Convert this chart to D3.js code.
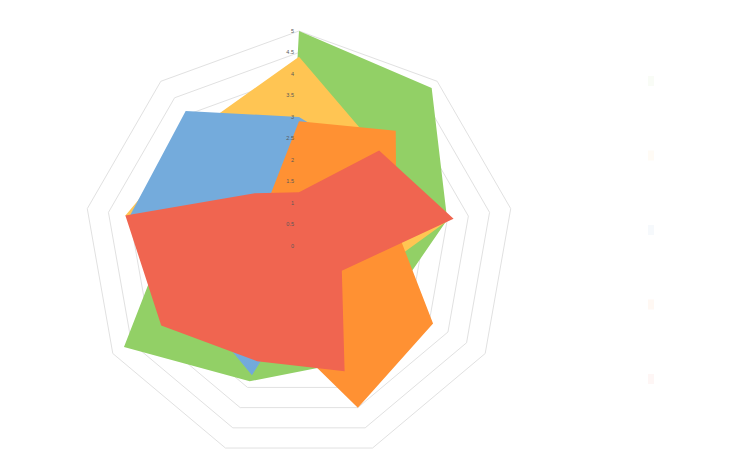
<!DOCTYPE html>
<html>
<head>
<meta charset="utf-8">
<script src="https://cdn.jsdelivr.net/npm/d3@7"></script>
<style>
  html, body { margin: 0; padding: 0; background: #fff; }
  svg { display: block; font-family: "Liberation Sans", Arial, sans-serif; }
</style>
</head>
<body>
<svg id="radar" width="755" height="473"></svg>
<script>
// 9 spokes, clockwise from the top
const axes = ["A1", "A2", "A3", "A4", "A5", "A6", "A7", "A8", "A9"];
const ticks = [0, 0.5, 1, 1.5, 2, 2.5, 3, 3.5, 4, 4.5, 5];

const seriesNames = ["Series 1", "Series 2", "Series 3", "Series 4", "Series 5"];
const green  = [5.0, 4.8, 3.5, 2.5, 2.9, 3.35, 4.7, 3.0, 0.4];
const yellow = [4.4, 2.9, 3.55, 1.7, 2.2, 2.5, 3.0, 4.1, 3.6];
const blue   = [3.0, 2.6, 2.0, 1.5, 0.85, 3.2, 2.8, 4.0, 4.1];
const orange = [2.9, 3.5, 2.3, 3.6, 4.0, 1.9, 1.6, 1.3, 1.2];
const red    = [1.25, 2.9, 3.65, 1.15, 3.1, 2.85, 3.7, 4.1, 1.6];

(function() {
  const svg = d3.select("#radar");
  const cx = 299, cy = 246, R = 215;

  const r = d3.scaleLinear().domain([0, 5]).range([0, R]);
  const angle = d3.scaleLinear().domain([0, axes.length]).range([0, 2 * Math.PI]);

  const defs = svg.append("defs");
  const grad = defs.append("linearGradient")
    .attr("id", "blueFill")
    .attr("gradientUnits", "userSpaceOnUse")
    .attr("x1", 0).attr("y1", 105).attr("x2", 0).attr("y2", 380);
  grad.append("stop").attr("offset", "0%").attr("stop-color", "#74abdc");
  grad.append("stop").attr("offset", "100%").attr("stop-color", "#4a8cc8");

  const g = svg.append("g").attr("transform", `translate(${cx},${cy})`);

  const radial = d3.lineRadial()
    .angle((d, i) => angle(i))
    .radius(d => r(d))
    .curve(d3.curveLinearClosed);

  // grid rings
  g.append("g").selectAll("path")
    .data(ticks.slice(1))
    .enter().append("path")
    .attr("d", t => radial(axes.map(() => t)))
    .attr("fill", "none")
    .attr("stroke", "#e1e1e1")
    .attr("stroke-width", 1);

  const series = [
    { name: seriesNames[0], values: green,  fill: "#92d066" },
    { name: seriesNames[1], values: yellow, fill: "#ffc553" },
    { name: seriesNames[2], values: blue,   fill: "url(#blueFill)", swatch: "#5b9bd5" },
    { name: seriesNames[3], values: orange, fill: "#ff9133" },
    { name: seriesNames[4], values: red,    fill: "#f06550" }
  ];

  g.append("g").selectAll("path")
    .data(series)
    .enter().append("path")
    .attr("d", d => radial(d.values))
    .attr("fill", d => d.fill);

  // value labels up the first spoke
  g.append("g").selectAll("text")
    .data(ticks)
    .enter().append("text")
    .attr("x", -5)
    .attr("y", t => -r(t))
    .attr("dy", "0.35em")
    .attr("text-anchor", "end")
    .attr("font-size", 5.5)
    .attr("fill", "#595959")
    .text(t => t);

  // almost invisible legend on the right
  const legend = svg.append("g").attr("opacity", 0.05);
  const ly = d3.scalePoint().domain(seriesNames).range([81, 379]);
  legend.selectAll("rect")
    .data(series)
    .enter().append("rect")
    .attr("x", 648)
    .attr("y", d => ly(d.name) - 5)
    .attr("width", 6)
    .attr("height", 10)
    .attr("fill", d => d.swatch || d.fill);
})();
</script>
</body>
</html>
